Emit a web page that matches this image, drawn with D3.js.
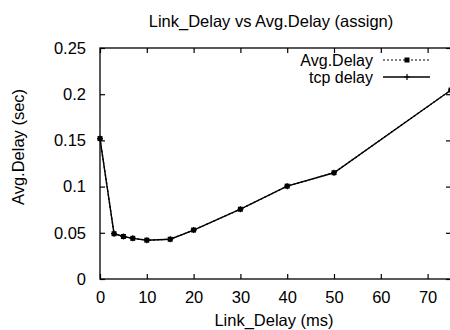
<!DOCTYPE html>
<html>
<head>
<meta charset="utf-8">
<script src="https://cdn.jsdelivr.net/npm/d3@7"></script>
<style>
  body { margin: 0; background: #fff; }
  svg { font-family: "Liberation Sans", Arial, sans-serif; }
</style>
</head>
<body>
<div id="chart"></div>
<script>
// chart data
const linkDelay = [0, 3, 5, 7, 10, 15, 20, 30, 40, 50, 75];
const avgDelay  = [0.152, 0.049, 0.046, 0.044, 0.042, 0.043, 0.053, 0.0755, 0.1005, 0.115, 0.2045];
const tcpDelay  = [0.152, 0.049, 0.046, 0.044, 0.042, 0.043, 0.053, 0.0755, 0.1005, 0.115, 0.2045];
const xTicks = [0, 10, 20, 30, 40, 50, 60, 70];
const yTicks = [0, 0.05, 0.1, 0.15, 0.2, 0.25];
const seriesNames = ["Avg.Delay", "tcp delay"];

const width = 450, height = 330,
    margin = ({ top: 48, right: -1, bottom: 51, left: 100 });

const svg = d3.select("#chart")
    .append("svg")
    .attr("width", width)
    .attr("height", height);

let x = d3.scaleLinear()
    .domain([0, 75])
    .range([margin.left, width - margin.right]);

let y = d3.scaleLinear()
    .domain([0, 0.25])
    .range([height - margin.bottom, margin.top]);

const fs = "16.5px";

// ticks inward, mirrored on all four sides (gnuplot style)
svg.append("g")
    .attr("transform", `translate(0,${y(0)})`)
    .call(d3.axisBottom(x).tickValues(xTicks).tickSize(-5).tickPadding(12).tickFormat(d3.format("d")))
    .call(g => g.select(".domain").remove());
svg.append("g")
    .attr("transform", `translate(0,${y(0.25)})`)
    .call(d3.axisTop(x).tickValues(xTicks).tickSize(-5).tickFormat(""))
    .call(g => g.select(".domain").remove());
svg.append("g")
    .attr("transform", `translate(${x(0)},0)`)
    .call(d3.axisLeft(y).tickValues(yTicks).tickSize(-5).tickPadding(14).tickFormat(d => d3.format("")(+d.toFixed(2))))
    .call(g => g.select(".domain").remove());
svg.append("g")
    .attr("transform", `translate(${x(75)},0)`)
    .call(d3.axisRight(y).tickValues(yTicks).tickSize(-5).tickFormat(""))
    .call(g => g.select(".domain").remove());

svg.selectAll(".tick text").style("font-size", fs).attr("fill", "#000");
svg.selectAll(".tick line").attr("stroke", "#000").attr("stroke-width", 1.2);

// frame
svg.append("rect")
    .attr("x", x(0)).attr("y", y(0.25))
    .attr("width", x(75) - x(0)).attr("height", y(0) - y(0.25))
    .attr("fill", "none").attr("stroke", "#000").attr("stroke-width", 1.3);

// title and axis labels
svg.append("text")
    .attr("x", 271).attr("y", 27)
    .attr("text-anchor", "middle")
    .style("font-size", "16.5px")
    .text("Link_Delay vs Avg.Delay (assign)");

svg.append("text")
    .attr("x", 274).attr("y", 326)
    .attr("text-anchor", "middle")
    .style("font-size", fs)
    .text("Link_Delay (ms)");

svg.append("text")
    .attr("transform", "translate(24,147) rotate(-90)")
    .attr("text-anchor", "middle")
    .style("font-size", fs)
    .text("Avg.Delay (sec)");

const pts = linkDelay.map((d, i) => ({ x: d, a: avgDelay[i], t: tcpDelay[i] }));

let lineA = d3.line().x(d => x(d.x)).y(d => y(d.a));
let lineT = d3.line().x(d => x(d.x)).y(d => y(d.t));

svg.append("path")
    .datum(pts)
    .attr("d", lineA)
    .attr("fill", "none").attr("stroke", "#000")
    .attr("stroke-width", 1.3).attr("stroke-dasharray", "2,2");

svg.append("path")
    .datum(pts)
    .attr("d", lineT)
    .attr("fill", "none").attr("stroke", "#000")
    .attr("stroke-width", 1.4);

// square markers for Avg.Delay
svg.append("g").selectAll("rect")
    .data(pts)
    .join("rect")
    .attr("x", d => x(d.x) - 2.5).attr("y", d => y(d.a) - 2.5)
    .attr("width", 5).attr("height", 5)
    .attr("fill", "#000");

// plus markers for tcp delay
svg.append("g").selectAll("path")
    .data(pts)
    .join("path")
    .attr("d", d => `M${x(d.x) - 3},${y(d.t)}h6M${x(d.x)},${y(d.t) - 3}v6`)
    .attr("stroke", "#000").attr("stroke-width", 1.2);

// legend
const legend = svg.append("g");
seriesNames.forEach((name, i) => {
    const ly = 60 + i * 17;
    legend.append("text")
        .attr("x", 373).attr("y", ly)
        .attr("dy", "0.35em")
        .attr("text-anchor", "end")
        .style("font-size", "16px")
        .text(name);
    legend.append("line")
        .attr("x1", 383).attr("x2", 430)
        .attr("y1", ly).attr("y2", ly)
        .attr("stroke", "#000")
        .attr("stroke-width", i === 0 ? 1 : 1.3)
        .attr("stroke-dasharray", i === 0 ? "2,2" : null);
    if (i === 0) {
        legend.append("rect")
            .attr("x", 404.5).attr("y", ly - 2.5)
            .attr("width", 5).attr("height", 5)
            .attr("fill", "#000");
    } else {
        legend.append("path")
            .attr("d", `M404,${ly}h6M407,${ly - 3}v6`)
            .attr("stroke", "#000").attr("stroke-width", 1.2);
    }
});
</script>
</body>
</html>
